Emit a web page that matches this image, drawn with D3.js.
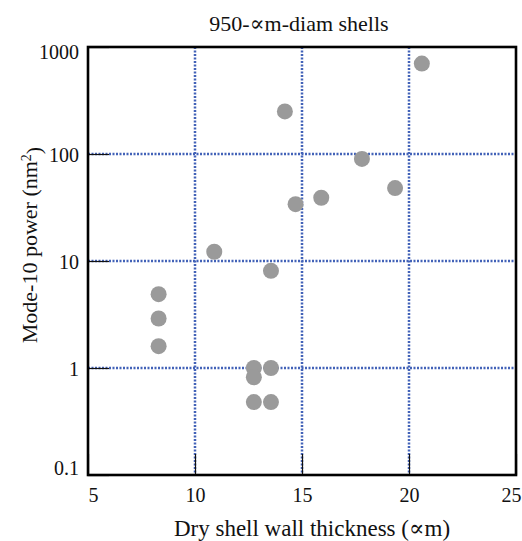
<!DOCTYPE html>
<html>
<head>
<meta charset="utf-8">
<script src="https://cdn.jsdelivr.net/npm/d3@7"></script>
<style>
  body { margin: 0; background: #fff; }
  text { font-family: "Liberation Serif", "DejaVu Serif", serif; fill: #111; }
</style>
</head>
<body>
<div id="chart"></div>
<script>
// data
var thickness = [20.6, 14.2, 17.8, 19.35, 15.9, 14.7, 10.9, 13.55, 8.3, 8.3, 8.3, 12.75, 13.55, 12.75, 12.75, 13.55];
var power = [700, 250, 90, 48, 39, 34, 12.2, 8.1, 4.9, 2.9, 1.6, 1.0, 1.0, 0.82, 0.48, 0.48];
var xTicks = [5, 10, 15, 20, 25];
var yTicks = [0.1, 1, 10, 100, 1000];
var xGrid = [10, 15, 20];
var yGrid = [1, 10, 100];

var svgWidth = 522;
var svgHeight = 541;
var margin = {top: 47, right: 6, bottom: 66, left: 88};
var width = svgWidth - margin.left - margin.right;
var height = svgHeight - margin.top - margin.bottom;

var svg = d3.select('#chart')
  .append('svg')
  .attr('width', svgWidth)
  .attr('height', svgHeight);

var chartGroup = svg.append('g')
  .attr('transform', 'translate(' + margin.left + ',' + margin.top + ')');

var xScale = d3.scaleLinear().domain([5, 25]).range([0, width]);
var yScale = d3.scaleLog().domain([0.1, 1000]).range([height, 0]);

// grid lines
chartGroup.selectAll('.xgrid')
  .data(xGrid)
  .enter()
  .append('line')
  .attr('x1', d => xScale(d)).attr('x2', d => xScale(d))
  .attr('y1', 0).attr('y2', height)
  .attr('stroke', '#4262b8')
  .attr('stroke-width', 2.5)
  .attr('stroke-dasharray', '2,1.5');

chartGroup.selectAll('.ygrid')
  .data(yGrid)
  .enter()
  .append('line')
  .attr('y1', d => yScale(d)).attr('y2', d => yScale(d))
  .attr('x1', 0).attr('x2', width)
  .attr('stroke', '#4262b8')
  .attr('stroke-width', 2.5)
  .attr('stroke-dasharray', '2,1.5');

// axes (inner ticks, labels outside)
var bottomAxis = d3.axisBottom(xScale)
  .tickValues(xTicks)
  .tickSize(-21)
  .tickPadding(27)
  .tickFormat(d3.format('d'));
var leftAxis = d3.axisLeft(yScale)
  .tickValues(yTicks)
  .tickSize(-21)
  .tickPadding(9)
  .tickFormat(d => String(d));

var xAxisG = chartGroup.append('g')
  .attr('transform', `translate(0, ${height})`)
  .call(bottomAxis);
var yAxisG = chartGroup.append('g').call(leftAxis);

[xAxisG, yAxisG].forEach(function(g) {
  g.select('.domain').remove();
  g.selectAll('line').attr('stroke', '#111').attr('stroke-width', 1.2);
  g.selectAll('text')
    .style('font-family', '"Liberation Serif", serif')
    .style('font-size', '20px')
    .attr('fill', '#111');
});
// end labels are kept inside the frame span
xAxisG.selectAll('text')
  .attr('dy', '0')
  .attr('text-anchor', d => d === 5 ? 'start' : (d === 25 ? 'end' : 'middle'))
  .attr('dx', d => d === 25 ? 5 : 0);
yAxisG.selectAll('text')
  .attr('dy', d => d === 1000 ? '0.55em' : (d === 0.1 ? '-0.05em' : '0.35em'));

// frame
chartGroup.append('rect')
  .attr('width', width)
  .attr('height', height)
  .attr('fill', 'none')
  .attr('stroke', '#000')
  .attr('stroke-width', 2.6);

// points
chartGroup.selectAll('circle')
  .data(thickness)
  .enter()
  .append('circle')
  .attr('cx', d => xScale(d))
  .attr('cy', (d, i) => yScale(power[i]))
  .attr('r', 8)
  .attr('fill', '#9a9a9a');

// title
svg.append('text')
  .attr('x', 299)
  .attr('y', 31)
  .style('text-anchor', 'middle')
  .style('font-size', '22px')
  .text('950-∝m-diam shells');

// x-axis label
svg.append('text')
  .attr('x', 312)
  .attr('y', 536)
  .style('text-anchor', 'middle')
  .style('font-size', '23px')
  .text('Dry shell wall thickness (∝m)');

// y-axis label
var yLabel = svg.append('text')
  .attr('transform', 'translate(37,245) rotate(-90)')
  .style('text-anchor', 'middle')
  .style('font-size', '22px');
yLabel.append('tspan').text('Mode-10 power (nm');
yLabel.append('tspan').attr('dy', '-0.45em').style('font-size', '14px').text('2');
yLabel.append('tspan').attr('dy', '0.45em').text(')');
</script>
</body>
</html>
